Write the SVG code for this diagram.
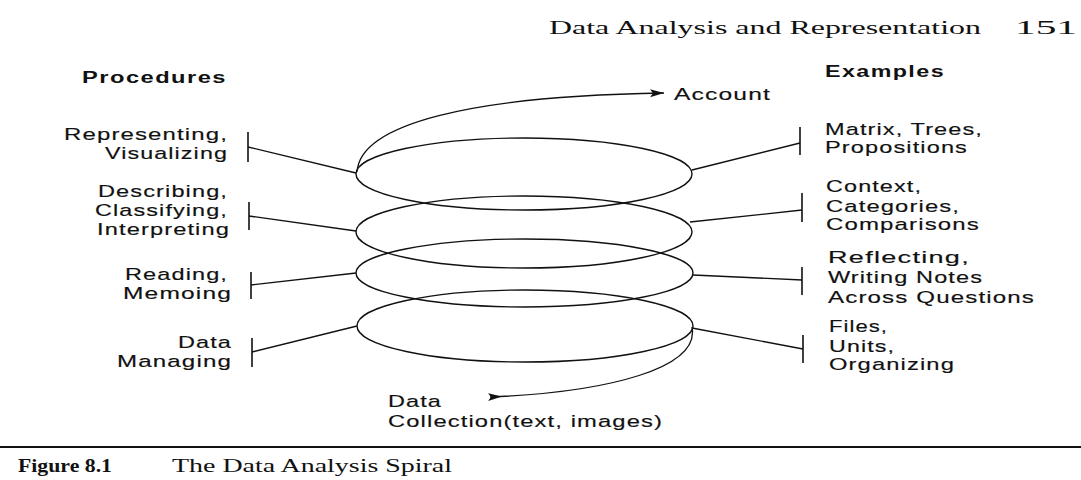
<svg xmlns="http://www.w3.org/2000/svg" width="1081" height="480" viewBox="0 0 1081 480">
<style>
.bg{fill:#ffffff}
.t{font-family:"Liberation Sans",Arial,sans-serif;font-size:17px;fill:#111111;letter-spacing:0.8px;stroke:#111111;stroke-width:0.15px}
.h{font-family:"Liberation Sans",Arial,sans-serif;font-size:16px;font-weight:bold;fill:#111111;letter-spacing:1px}
.s{font-family:"Liberation Serif","Times New Roman",serif;font-size:19px;fill:#111111}
.sb{font-family:"Liberation Serif","Times New Roman",serif;font-size:18px;font-weight:bold;fill:#111111}
.e{fill:none;stroke:#111111;stroke-width:1.4}
.c{fill:none;stroke:#111111;stroke-width:1.3}
.tick{stroke:#111111;stroke-width:1.6}
.end{text-anchor:end}
</style>
<defs>
<marker id="arr" markerWidth="16" markerHeight="10" refX="14" refY="5" orient="auto" markerUnits="userSpaceOnUse">
<path d="M0,1 L14,5 L0,9 L3,5 Z" fill="#111111"/>
</marker>
<marker id="arrS" markerWidth="16" markerHeight="10" refX="2" refY="5" orient="auto" markerUnits="userSpaceOnUse">
<path d="M0,1 L14,5 L0,9 L3,5 Z" fill="#111111"/>
</marker>
</defs>
<rect class="bg" x="0" y="0" width="1081" height="480"/>

<g id="page-header">
<text class="s" x="549" y="34" textLength="432" lengthAdjust="spacingAndGlyphs">Data Analysis and Representation</text>
<text class="s" x="1015" y="34" textLength="62" lengthAdjust="spacingAndGlyphs">151</text>
</g>

<g id="heading-procedures"><text class="h" x="82" y="83" textLength="145" lengthAdjust="spacingAndGlyphs">Procedures</text></g>
<g id="heading-examples"><text class="h" x="825" y="77" textLength="120" lengthAdjust="spacingAndGlyphs">Examples</text></g>

<g id="spiral-loop-1"><ellipse class="e" cx="524" cy="174" rx="168" ry="36"/></g>
<g id="spiral-loop-2"><ellipse class="e" cx="524" cy="232" rx="168" ry="36"/></g>
<g id="spiral-loop-3"><ellipse class="e" cx="524.5" cy="273" rx="168.5" ry="34"/></g>
<g id="spiral-loop-4"><ellipse class="e" cx="525" cy="326" rx="168" ry="36"/></g>

<g id="proc-representing">
<line class="tick" x1="248" y1="132" x2="248" y2="162"/>
<text class="t end" x="228" y="140" textLength="164" lengthAdjust="spacingAndGlyphs">Representing,</text>
<text class="t end" x="228" y="159" textLength="123" lengthAdjust="spacingAndGlyphs">Visualizing</text>
</g>
<g id="proc-describing">
<line class="tick" x1="249" y1="202" x2="249" y2="230"/>
<text class="t end" x="228" y="197" textLength="130" lengthAdjust="spacingAndGlyphs">Describing,</text>
<text class="t end" x="228" y="216" textLength="133" lengthAdjust="spacingAndGlyphs">Classifying,</text>
<text class="t end" x="230" y="235" textLength="133" lengthAdjust="spacingAndGlyphs">Interpreting</text>
</g>
<g id="proc-reading">
<line class="tick" x1="251" y1="272" x2="251" y2="299"/>
<text class="t end" x="228" y="280" textLength="103" lengthAdjust="spacingAndGlyphs">Reading,</text>
<text class="t end" x="232" y="299" textLength="109" lengthAdjust="spacingAndGlyphs">Memoing</text>
</g>
<g id="proc-managing">
<line class="tick" x1="252" y1="338" x2="252" y2="367"/>
<text class="t end" x="232" y="348" textLength="54" lengthAdjust="spacingAndGlyphs">Data</text>
<text class="t end" x="232" y="367" textLength="115" lengthAdjust="spacingAndGlyphs">Managing</text>
</g>

<g id="ex-matrix">
<line class="tick" x1="800" y1="127" x2="800" y2="155"/>
<text class="t" x="825" y="135" textLength="158" lengthAdjust="spacingAndGlyphs">Matrix, Trees,</text>
<text class="t" x="825" y="153" textLength="143" lengthAdjust="spacingAndGlyphs">Propositions</text>
</g>
<g id="ex-context">
<line class="tick" x1="802" y1="193" x2="802" y2="222"/>
<text class="t" x="826" y="192" textLength="96" lengthAdjust="spacingAndGlyphs">Context,</text>
<text class="t" x="826" y="212" textLength="134" lengthAdjust="spacingAndGlyphs">Categories,</text>
<text class="t" x="826" y="230" textLength="154" lengthAdjust="spacingAndGlyphs">Comparisons</text>
</g>
<g id="ex-reflecting">
<line class="tick" x1="802" y1="267" x2="802" y2="295"/>
<text class="t" x="828" y="263" textLength="142" lengthAdjust="spacingAndGlyphs">Reflecting,</text>
<text class="t" x="828" y="283" textLength="155" lengthAdjust="spacingAndGlyphs">Writing Notes</text>
<text class="t" x="828" y="303" textLength="207" lengthAdjust="spacingAndGlyphs">Across Questions</text>
</g>
<g id="ex-files">
<line class="tick" x1="803" y1="335" x2="803" y2="363"/>
<text class="t" x="829" y="332" textLength="59" lengthAdjust="spacingAndGlyphs">Files,</text>
<text class="t" x="829" y="352" textLength="66" lengthAdjust="spacingAndGlyphs">Units,</text>
<text class="t" x="829" y="370" textLength="126" lengthAdjust="spacingAndGlyphs">Organizing</text>
</g>

<g id="account"><text class="t" x="674" y="100" textLength="97" lengthAdjust="spacingAndGlyphs">Account</text></g>
<g id="data-collection">
<text class="t" x="388" y="407" textLength="54" lengthAdjust="spacingAndGlyphs">Data</text>
<text class="t" x="388" y="427" textLength="275" lengthAdjust="spacingAndGlyphs">Collection(text, images)</text>
</g>

<g id="connectors">
<line class="c" x1="248" y1="147" x2="356" y2="173"/>
<line class="c" x1="249" y1="216" x2="356" y2="231"/>
<line class="c" x1="251" y1="285" x2="356" y2="273"/>
<line class="c" x1="252" y1="352" x2="357" y2="326"/>
<line class="c" x1="692" y1="170" x2="800" y2="143"/>
<line class="c" x1="690" y1="222" x2="802" y2="210"/>
<line class="c" x1="693" y1="275" x2="802" y2="280"/>
<line class="c" x1="692" y1="328" x2="803" y2="349"/>
<path class="c" d="M357,172 C360,124 470,96 664,93" marker-end="url(#arr)"/>
<path class="c" d="M490,397 C610,392 700,368 692,327" marker-start="url(#arrS)"/>
</g>

<g id="caption">
<line x1="0" y1="447" x2="1081" y2="447" stroke="#111111" stroke-width="2"/>
<text class="sb" x="18" y="472" textLength="94" lengthAdjust="spacingAndGlyphs">Figure 8.1</text>
<text class="s" x="172" y="472" textLength="280" lengthAdjust="spacingAndGlyphs">The Data Analysis Spiral</text>
</g>
</svg>
